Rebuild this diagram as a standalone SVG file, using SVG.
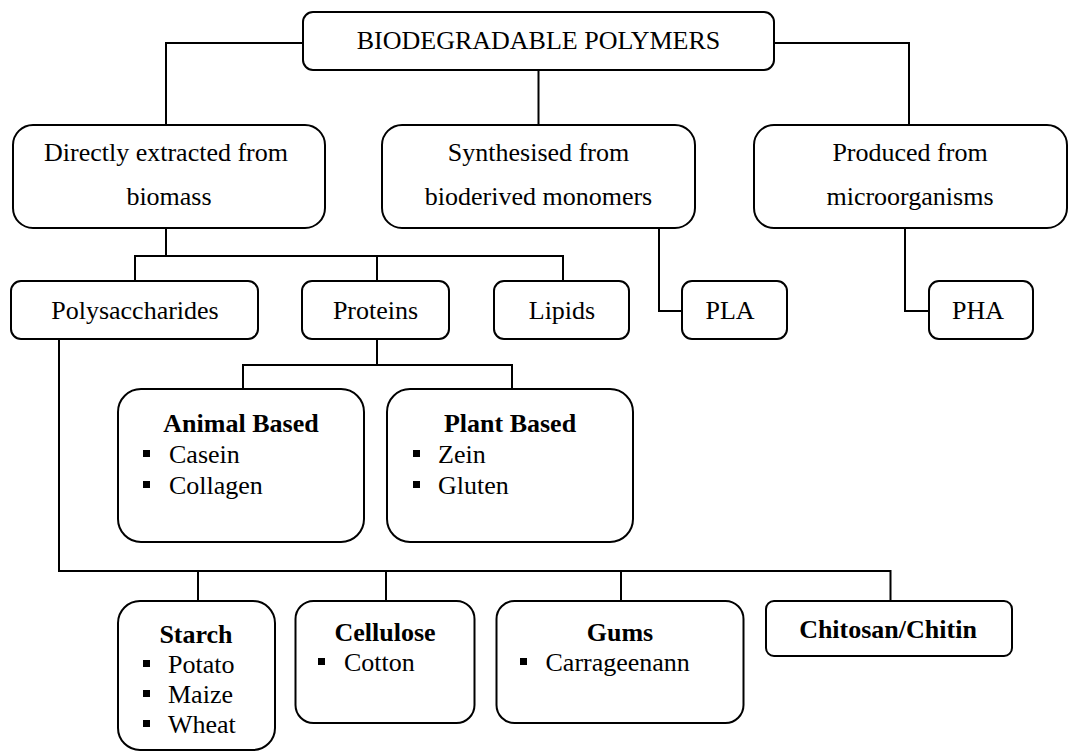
<svg xmlns="http://www.w3.org/2000/svg" width="1070" height="751" viewBox="0 0 1070 751">
<style>
.box{fill:#fff;stroke:#000;stroke-width:2}
.ln{fill:none;stroke:#000;stroke-width:2}
text{font-family:"Liberation Serif","Times New Roman",serif;font-size:26px;fill:#000}
.c{text-anchor:middle}
.b{font-weight:bold}
.bul{fill:#000}
</style>
<rect width="1070" height="751" fill="#fff"/>
<g id="connectors">
<polyline class="ln" points="303,43 166,43 166,125"/>
<line class="ln" x1="538.5" y1="70" x2="538.5" y2="125"/>
<polyline class="ln" points="774,43 909,43 909,125"/>
<line class="ln" x1="166" y1="228" x2="166" y2="256"/>
<polyline class="ln" points="135,281 135,256 563,256 563,281"/>
<line class="ln" x1="377" y1="256" x2="377" y2="281"/>
<polyline class="ln" points="659,228 659,311 682,311"/>
<polyline class="ln" points="905,228 905,311 929,311"/>
<line class="ln" x1="377" y1="339" x2="377" y2="365"/>
<polyline class="ln" points="243,389 243,365 512,365 512,389"/>
<polyline class="ln" points="59,339 59,571 890.5,571 890.5,601"/>
<line class="ln" x1="198" y1="571" x2="198" y2="601"/>
<line class="ln" x1="386" y1="571" x2="386" y2="601"/>
<line class="ln" x1="621" y1="571" x2="621" y2="601"/>
</g>
<g id="root">
<rect class="box" x="303" y="12" width="471" height="58" rx="10"/>
<text class="c" x="538.5" y="49">BIODEGRADABLE POLYMERS</text>
</g>
<g id="directly">
<rect class="box" x="13" y="125" width="312" height="103" rx="20"/>
<text class="c" x="166" y="161">Directly extracted from</text>
<text class="c" x="169" y="205">biomass</text>
</g>
<g id="synthesised">
<rect class="box" x="382" y="125" width="313" height="103" rx="20"/>
<text class="c" x="538.5" y="161">Synthesised from</text>
<text class="c" x="538.5" y="205">bioderived monomers</text>
</g>
<g id="produced">
<rect class="box" x="754" y="125" width="313" height="103" rx="20"/>
<text class="c" x="910" y="161">Produced from</text>
<text class="c" x="910" y="205">microorganisms</text>
</g>
<g id="polysaccharides">
<rect class="box" x="11" y="281" width="247" height="58" rx="10"/>
<text class="c" x="135" y="319">Polysaccharides</text>
</g>
<g id="proteins">
<rect class="box" x="302" y="281" width="147" height="58" rx="10"/>
<text class="c" x="375.5" y="319">Proteins</text>
</g>
<g id="lipids">
<rect class="box" x="494" y="281" width="135" height="58" rx="10"/>
<text class="c" x="562" y="319">Lipids</text>
</g>
<g id="pla">
<rect class="box" x="682" y="281" width="105" height="58" rx="10"/>
<text class="c" x="730" y="319">PLA</text>
</g>
<g id="pha">
<rect class="box" x="929" y="281" width="104" height="58" rx="10"/>
<text class="c" x="978" y="319">PHA</text>
</g>
<g id="animal">
<rect class="box" x="118" y="389" width="246" height="153" rx="23"/>
<text class="c b" x="241" y="432">Animal Based</text>
<rect class="bul" x="143" y="450" width="7" height="7"/>
<text x="169" y="463">Casein</text>
<rect class="bul" x="143" y="481" width="7" height="7"/>
<text x="169" y="494">Collagen</text>
</g>
<g id="plant">
<rect class="box" x="387" y="389" width="246" height="153" rx="23"/>
<text class="c b" x="510" y="432">Plant Based</text>
<rect class="bul" x="413" y="450" width="7" height="7"/>
<text x="438" y="463">Zein</text>
<rect class="bul" x="413" y="481" width="7" height="7"/>
<text x="438" y="494">Gluten</text>
</g>
<g id="starch">
<rect class="box" x="118" y="601" width="157" height="149" rx="22"/>
<text class="c b" x="196" y="643">Starch</text>
<rect class="bul" x="143" y="660" width="7" height="7"/>
<text x="168" y="673">Potato</text>
<rect class="bul" x="143" y="690" width="7" height="7"/>
<text x="168" y="703">Maize</text>
<rect class="bul" x="143" y="720" width="7" height="7"/>
<text x="168" y="733">Wheat</text>
</g>
<g id="cellulose">
<rect class="box" x="295.5" y="601" width="179" height="122" rx="18"/>
<text class="c b" x="385" y="641">Cellulose</text>
<rect class="bul" x="318" y="658" width="7" height="7"/>
<text x="344" y="671">Cotton</text>
</g>
<g id="gums">
<rect class="box" x="496.5" y="601" width="247" height="122" rx="18"/>
<text class="c b" x="620" y="641">Gums</text>
<rect class="bul" x="520" y="658" width="7" height="7"/>
<text x="545.5" y="671">Carrageenann</text>
</g>
<g id="chitosan">
<rect class="box" x="766" y="601" width="246" height="55" rx="8"/>
<text class="c b" x="888" y="638">Chitosan/Chitin</text>
</g>
</svg>
